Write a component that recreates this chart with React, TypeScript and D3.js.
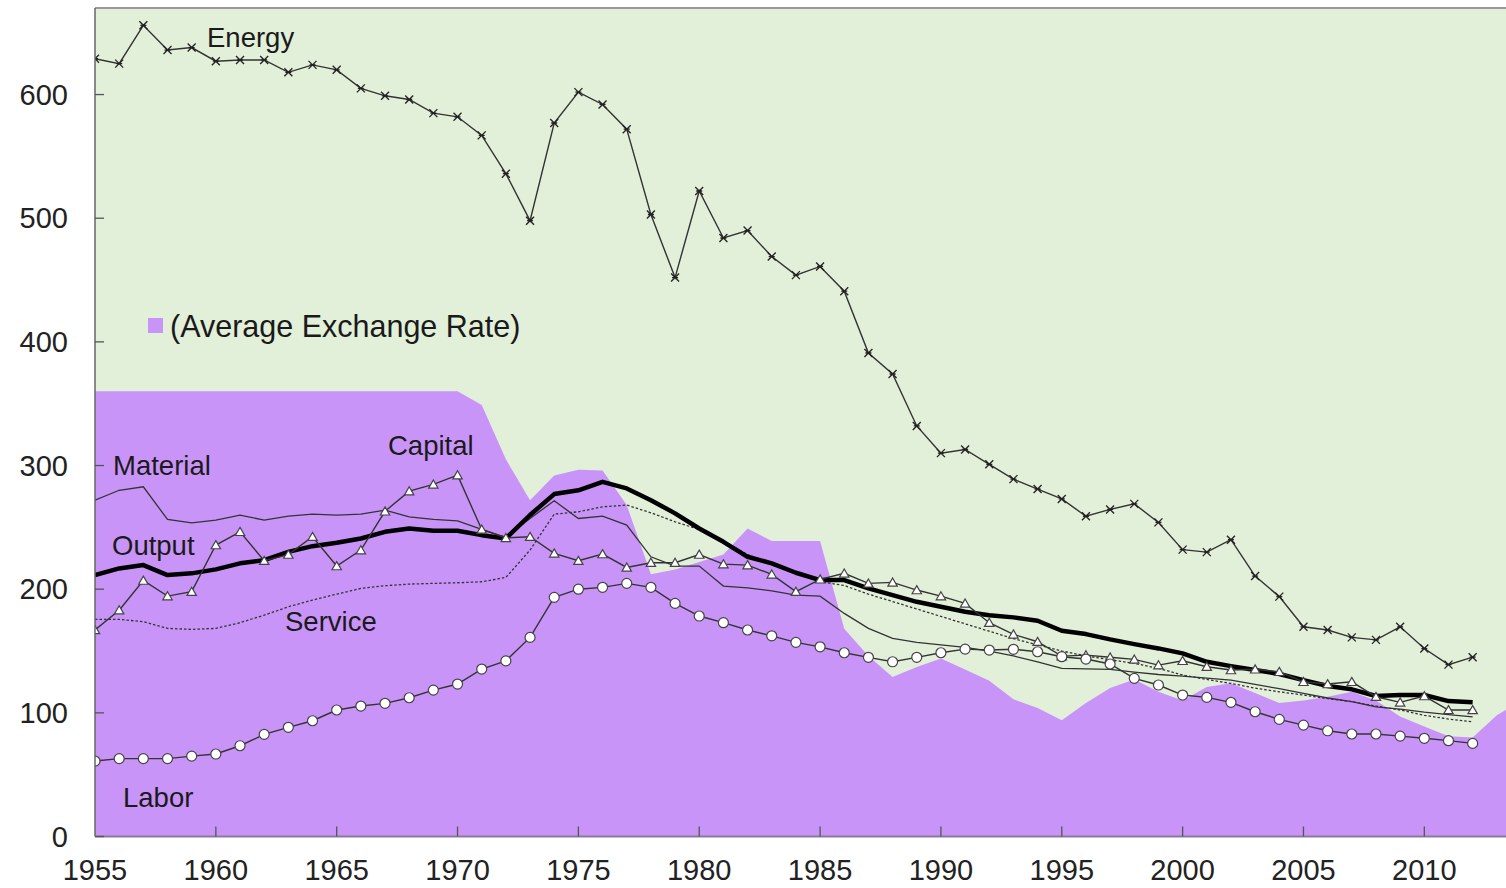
import React from 'react';
import * as d3 from 'd3';

// ---------- data ----------
const years = d3.range(1955, 2013);

const energy = [
  629, 625, 656, 636, 638, 627, 628, 628, 618, 624,
  620, 605, 599, 596, 585, 582, 567, 536, 498, 577,
  602, 592, 572, 503, 452, 522, 484, 490, 469, 454,
  461, 441, 391, 374, 332, 310, 313, 301, 289, 281,
  273, 259, 264.5, 269, 254, 232, 230, 240, 210.6, 194,
  169.6, 167, 161, 159, 169.6, 152, 139, 145,
];

const output = [
  211.4, 216.8, 219.5, 211.4, 212.8, 216, 220.9, 223.5, 230.2, 234.8,
  237.5, 241, 246.4, 249.1, 247.2, 247.2, 243.7, 241, 260, 276.9,
  280, 286.8, 281.5, 272, 261.3, 249.1, 238.3, 226.2, 220.9, 213.3,
  207.4, 207.4, 200.6, 195.2, 189.8, 185.8, 181.7, 179, 177.2, 174.5,
  166.4, 163.7, 159.4, 155.6, 152.1, 148.1, 141.3, 137.8, 134.6, 131.4,
  126.5, 121.7, 119, 113.6, 114.4, 114.4, 109.5, 108.5,
];

const capital = [
  167, 183, 207, 194.4, 198, 235.7, 246.4, 223, 228, 242.4,
  218.7, 231.6, 263, 279.3, 284.7, 292.2, 248.3, 241.5, 242.4, 229,
  223, 228.4, 217.6, 221.4, 221.4, 228, 220.3, 219.5, 212, 198,
  208, 212.8, 204.7, 205.5, 199.3, 194.4, 188.5, 172.9, 163.5, 157.5,
  145.9, 146.7, 144.9, 143.2, 138.6, 142.1, 137.3, 134.6, 135.2, 133.2,
  125.1, 123.3, 125.1, 113, 108.5, 113.6, 102.3, 102.3,
];

const labor = [
  61, 63, 63, 63, 65, 66.7, 73.4, 82.6, 88.3, 93.6,
  102.3, 105.5, 107.7, 112.2, 118.4, 123.3, 135.4, 142, 161, 193.4,
  200, 201.5, 204.7, 201.5, 188.5, 178.3, 172.9, 167, 162.3, 157,
  153.4, 148.6, 144.9, 141.3, 144.9, 148.6, 151.5, 150.8, 151.4, 149.4,
  145.4, 143.5, 139.5, 127.9, 122.5, 114.4, 112.5, 108.5, 100.9, 94.7,
  90.1, 85.5, 82.9, 82.9, 81.2, 79.4, 77.5, 75.3,
];

const material = [
  272, 280, 282.8, 256.4, 253.7, 255.9, 259.9, 255.9, 259.1, 260.7,
  259.9, 260.7, 264, 258.5, 256.4, 255.3, 248.3, 241.9, 257.2, 271.5,
  257.2, 259.1, 251.8, 226.2, 218.7, 218.7, 202.5, 201.1, 198.7, 195.2,
  194.4, 180.4, 168.3, 160.2, 157, 155, 153, 150, 146, 141.3,
  136, 135.5, 135.2, 133, 131, 129.7, 128, 126.5, 123, 119.5,
  115.8, 112, 109, 104.9, 103, 100.5, 98.5, 96.8,
];

const service = [
  175.6, 175.6, 173.7, 168.3, 167.5, 168.3, 172.9, 179, 185.8, 191.2,
  196, 200.6, 202.8, 204.1, 204.7, 205.2, 206, 209.5, 231.6, 260.7,
  262.6, 266.6, 268, 261.8, 254.5, 248.3, 239, 228, 220, 213,
  206, 203, 196, 190, 184, 178, 172, 166, 160, 155,
  150, 146, 143, 140, 136, 130.6, 127, 123.8, 120, 117,
  114.4, 111.5, 109, 105.5, 102.3, 98, 95, 92.8,
];

const erYears = d3.range(1955, 2015);
const exchangeRate = [
  360, 360, 360, 360, 360, 360, 360, 360, 360, 360,
  360, 360, 360, 360, 360, 360, 349, 305, 272, 292,
  296.5, 296, 268, 212, 216, 222, 228, 249, 239, 239,
  239, 168, 146, 129, 137, 144, 135, 126, 111, 104,
  94, 108, 120, 127, 117, 110, 121, 124, 116, 108,
  110, 113, 117, 110, 97, 89, 81, 80, 98, 110,
];

const yTicks = [0, 100, 200, 300, 400, 500, 600];
const xTicks = [1955, 1960, 1965, 1970, 1975, 1980, 1985, 1990, 1995, 2000, 2005, 2010];

// ---------- layout ----------
const W = 1506;
const H = 888;
const left = 95;
const right = 1506;
const top = 8;
const bottom = 836.5;

const x = d3.scaleLinear().domain([1955, 2013.38]).range([left, right]);
const y = d3.scaleLinear().domain([0, 670]).range([bottom, top]);

const FONT = '"Liberation Sans", Arial, sans-serif';
const BG = '#e2efd9';
const PURPLE = '#c994f8';
const INK = '#333333';

type Pt = [number, number];
const pts = (vals: number[]): Pt[] => vals.map((v, i) => [years[i], v]);

const line = d3
  .line<Pt>()
  .x((d) => x(d[0]))
  .y((d) => y(d[1]));

const area = d3
  .area<Pt>()
  .x((d) => x(d[0]))
  .y0(bottom)
  .y1((d) => y(d[1]));

const triPath = d3.symbol(d3.symbolTriangle, 38)() as string;

export default function App() {
  const erPts: Pt[] = exchangeRate.map((v, i) => [erYears[i], v]);
  return (
    <svg
      width={W}
      height={H}
      style={{ position: 'absolute', left: 0, top: 0, background: '#fff' }}
      fontFamily={FONT}
    >
      <defs>
        <clipPath id="plot">
          <rect x={left} y={top} width={right - left} height={bottom - top} />
        </clipPath>
      </defs>
      <rect x={left} y={top} width={right - left} height={bottom - top} fill={BG} />
      <g clipPath="url(#plot)">
        <path d={area(erPts) as string} fill={PURPLE} />
        <path d={line(pts(material)) as string} fill="none" stroke={INK} strokeWidth={1.3} />
        <path
          d={line(pts(service)) as string}
          fill="none"
          stroke={INK}
          strokeWidth={1.3}
          strokeDasharray="2.5,2"
        />
        <path d={line(pts(output)) as string} fill="none" stroke="#000" strokeWidth={4.5} strokeLinejoin="round" />
        <path d={line(pts(energy)) as string} fill="none" stroke={INK} strokeWidth={1.4} />
        {energy.map((v, i) => (
          <path
            key={'e' + i}
            transform={`translate(${x(years[i])},${y(v)})`}
            d="M-4,-4L4,4M-4,4L4,-4M-3,0L3,0"
            stroke="#222"
            strokeWidth={1.3}
            fill="none"
          />
        ))}
        <path d={line(pts(capital)) as string} fill="none" stroke={INK} strokeWidth={1.4} />
        {capital.map((v, i) => (
          <path
            key={'c' + i}
            transform={`translate(${x(years[i])},${y(v) + 1})`}
            d={triPath}
            fill="#fff"
            stroke="#444"
            strokeWidth={1.2}
          />
        ))}
        <path d={line(pts(labor)) as string} fill="none" stroke={INK} strokeWidth={1.4} />
        {labor.map((v, i) => (
          <circle
            key={'l' + i}
            cx={x(years[i])}
            cy={y(v)}
            r={5}
            fill="#fff"
            stroke="#444"
            strokeWidth={1.2}
          />
        ))}
      </g>

      {/* frame */}
      <line x1={left} x2={right} y1={top} y2={top} stroke="#9a9a9a" strokeWidth={2} />
      <line x1={left} x2={left} y1={top} y2={bottom} stroke="#666" strokeWidth={1.5} />
      <line x1={left} x2={right} y1={bottom} y2={bottom} stroke="#8a7a99" strokeWidth={2} />

      {/* y axis */}
      {yTicks.map((t) => (
        <g key={'y' + t}>
          <line x1={left} x2={left + 9} y1={y(t)} y2={y(t)} stroke="#555" strokeWidth={1.3} />
          <text x={68} y={y(t)} dy="0.35em" textAnchor="end" fontSize={29} fill="#222">
            {t}
          </text>
        </g>
      ))}
      {/* x axis */}
      {xTicks.map((t) => (
        <g key={'x' + t}>
          {t !== 1955 && (
            <line x1={x(t)} x2={x(t)} y1={bottom} y2={bottom - 10} stroke="#555" strokeWidth={1.3} />
          )}
          <text x={x(t)} y={880} textAnchor="middle" fontSize={29} fill="#222">
            {t}
          </text>
        </g>
      ))}

      {/* labels */}
      <g fontSize={27.5} fill="#1a1a1a">
        <text x={207} y={47}>Energy</text>
        <text x={113} y={475}>Material</text>
        <text x={388} y={455}>Capital</text>
        <text x={112} y={555}>Output</text>
        <text x={285} y={631}>Service</text>
        <text x={123} y={807}>Labor</text>
      </g>
      <rect x={148} y={318} width={15} height={15} fill={PURPLE} />
      <text x={170} y={337} fontSize={30.5} fill="#1a1a1a">
        (Average Exchange Rate)
      </text>
    </svg>
  );
}
